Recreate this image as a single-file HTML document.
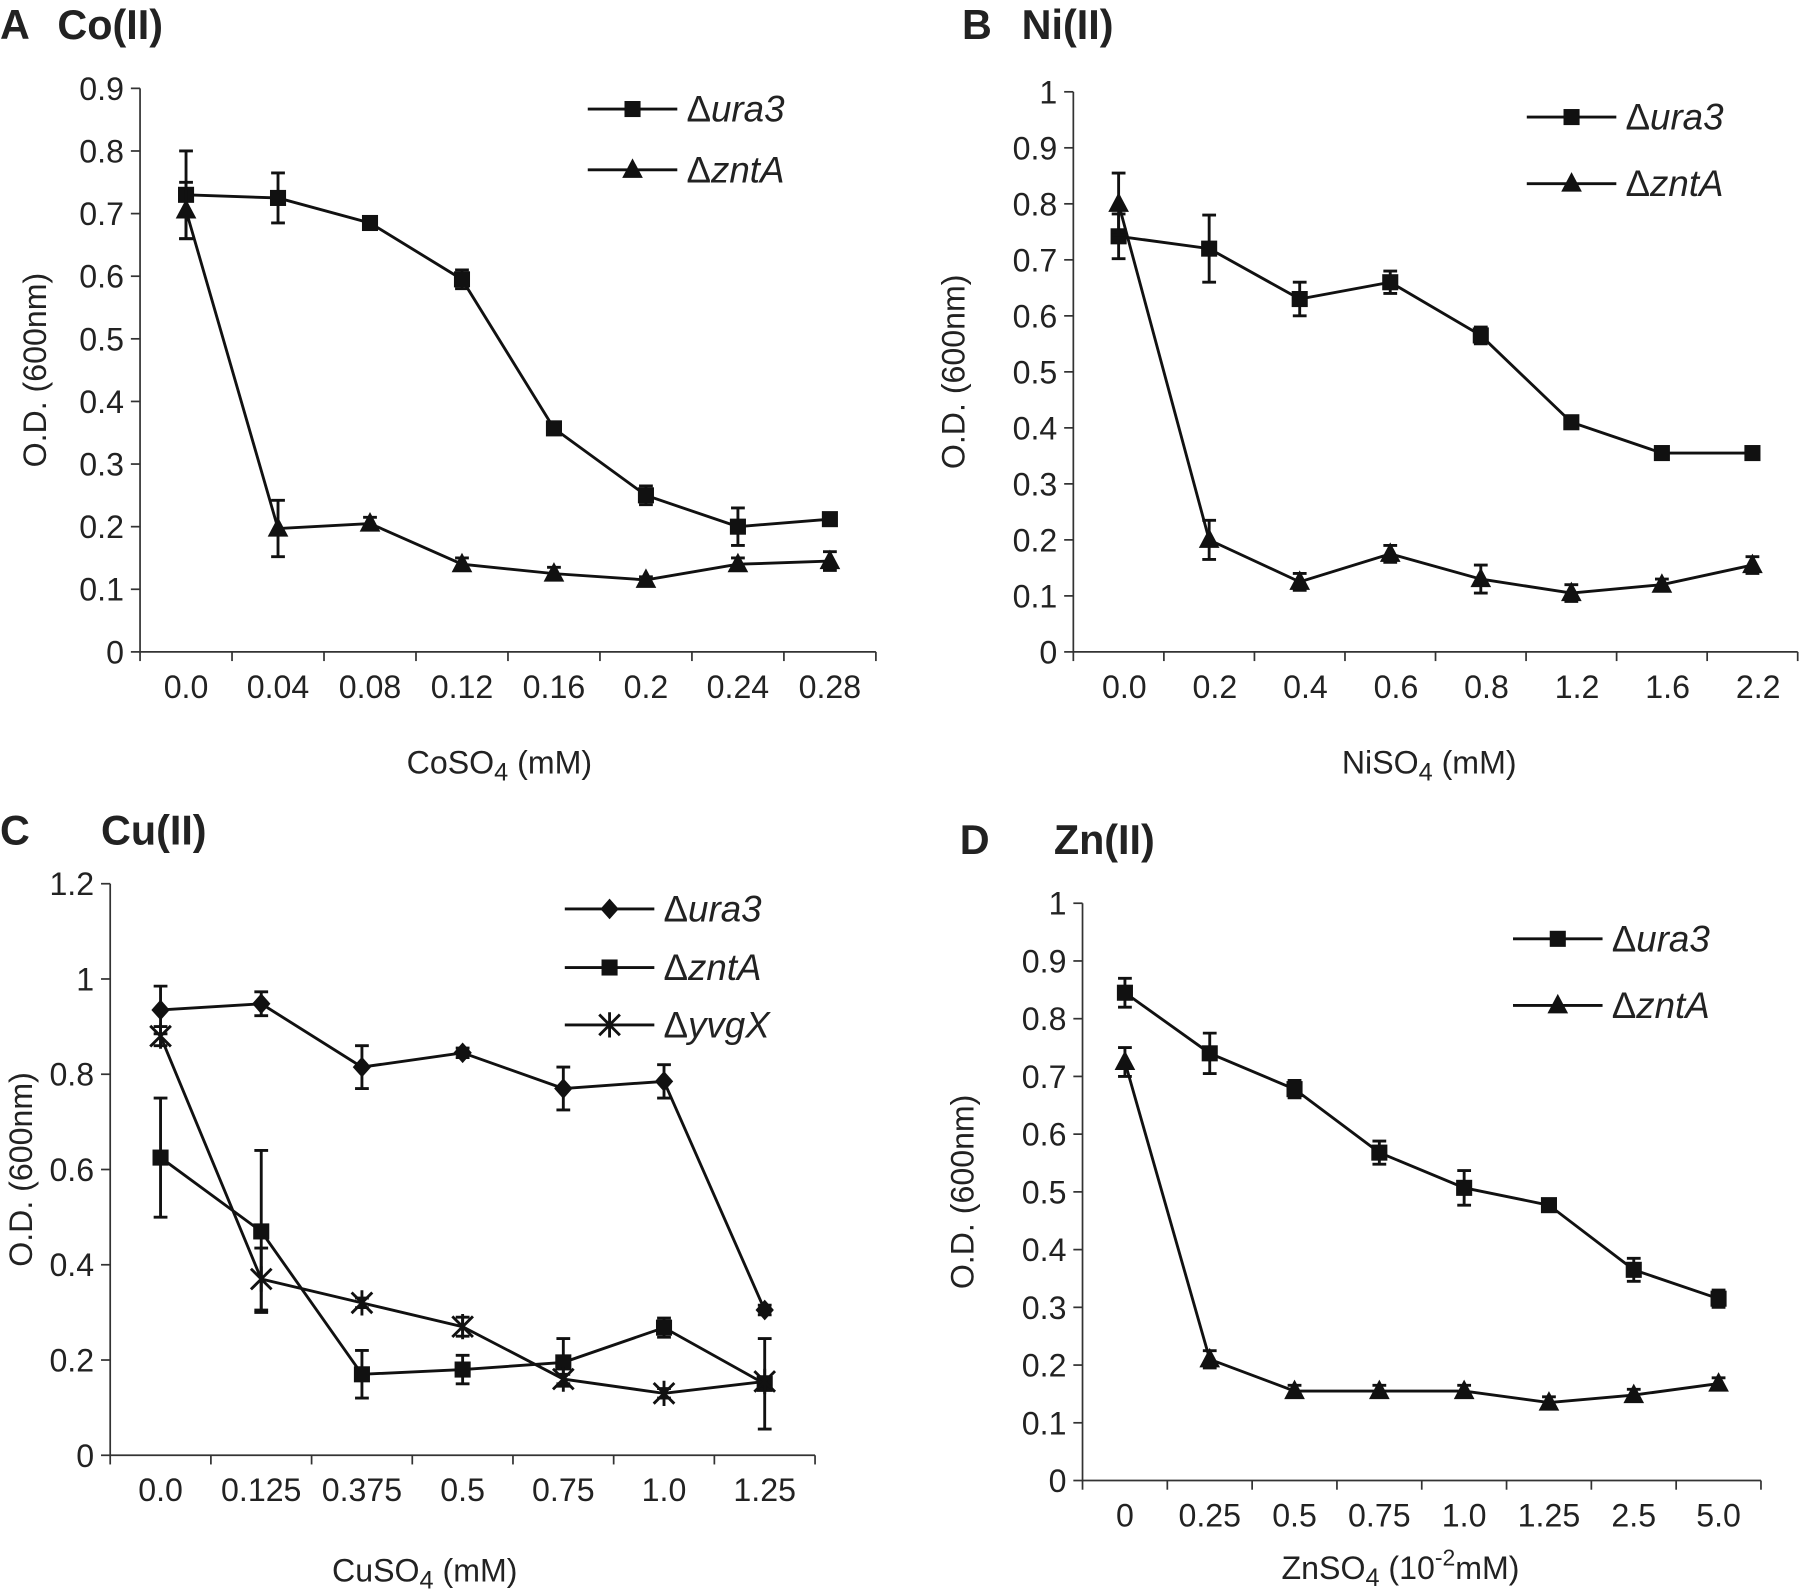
<!DOCTYPE html>
<html><head><meta charset="utf-8"><style>
html,body{margin:0;padding:0;background:#fff}
svg{display:block}
text{font-family:"Liberation Sans",Arial,sans-serif;fill:#222}
</style></head><body>
<svg id="fig" width="1800" height="1593" viewBox="0 0 1568 1388" preserveAspectRatio="none" xmlns="http://www.w3.org/2000/svg">
<g><text x="0" y="34" font-size="36" font-weight="bold">A</text><text x="50" y="34" font-size="36" font-weight="bold">Co(II)</text></g>
<g><text x="838" y="34" font-size="36" font-weight="bold">B</text><text x="890" y="34" font-size="36" font-weight="bold">Ni(II)</text></g>
<g><text x="0" y="736" font-size="36" font-weight="bold">C</text><text x="88" y="736" font-size="36" font-weight="bold">Cu(II)</text></g>
<g><text x="836" y="744" font-size="36" font-weight="bold">D</text><text x="918" y="744" font-size="36" font-weight="bold">Zn(II)</text></g>
</svg>
<script>
// Panel A data
const catsA=["0.0","0.04","0.08","0.12","0.16","0.2","0.24","0.28"];
const aUra3=[0.73,0.725,0.685,0.595,0.357,0.25,0.2,0.212];
const aUra3Err=[0.07,0.04,0.01,0.015,0.01,0.015,0.03,0.01];
const aZntA=[0.705,0.197,0.205,0.14,0.125,0.115,0.14,0.145];
const aZntAErr=[0.045,0.045,0.01,0.01,0.01,0.005,0.01,0.015];
const ticksA=["0","0.1","0.2","0.3","0.4","0.5","0.6","0.7","0.8","0.9"];
// Panel B data
const catsB=["0.0","0.2","0.4","0.6","0.8","1.2","1.6","2.2"];
const bUra3=[0.742,0.72,0.63,0.66,0.565,0.41,0.355,0.355];
const bUra3Err=[0.04,0.06,0.03,0.02,0.015,0.01,0.01,0.01];
const bZntA=[0.80,0.20,0.125,0.175,0.13,0.105,0.12,0.155];
const bZntAErr=[0.055,0.035,0.015,0.015,0.025,0.015,0.01,0.015];
const ticksB=["0","0.1","0.2","0.3","0.4","0.5","0.6","0.7","0.8","0.9","1"];
// Panel C data
const catsC=["0.0","0.125","0.375","0.5","0.75","1.0","1.25"];
const cUra3=[0.935,0.948,0.815,0.845,0.77,0.785,0.305];
const cUra3Err=[0.05,0.025,0.045,0.01,0.045,0.035,0.01];
const cZntA=[0.625,0.47,0.17,0.18,0.195,0.268,0.15];
const cZntAErr=[0.125,0.17,0.05,0.03,0.05,0.02,0.095];
const cYvgX=[0.88,0.37,0.32,0.27,0.16,0.13,0.155];
const cYvgXErr=[0.02,0.065,0.01,0.02,0.01,0.01,0.01];
const ticksC=["0","0.2","0.4","0.6","0.8","1","1.2"];
// Panel D data
const catsD=["0","0.25","0.5","0.75","1.0","1.25","2.5","5.0"];
const dUra3=[0.845,0.74,0.678,0.568,0.507,0.477,0.365,0.315];
const dUra3Err=[0.025,0.035,0.015,0.02,0.03,0.01,0.02,0.015];
const dZntA=[0.725,0.21,0.155,0.155,0.155,0.135,0.148,0.168];
const dZntAErr=[0.025,0.015,0.01,0.01,0.01,0.01,0.01,0.01];
const ticksD=["0","0.1","0.2","0.3","0.4","0.5","0.6","0.7","0.8","0.9","1"];

const NS="http://www.w3.org/2000/svg";
const svg=document.getElementById('fig');
function mk(tag,attrs,parent){const e=document.createElementNS(NS,tag);for(const k in attrs)e.setAttribute(k,attrs[k]);(parent||svg).appendChild(e);return e;}
function marker(g,type,x,y){
  let m;
  if(type==='square'){m=mk('rect',{x:x-7,y:y-7,width:14,height:14,fill:'#111'},g);}
  else if(type==='triangle'){m=mk('polygon',{points:`${x},${y-10} ${x+9},${y+7} ${x-9},${y+7}`,fill:'#111'},g);}
  else if(type==='diamond'){m=mk('polygon',{points:`${x},${y-9} ${x+8},${y} ${x},${y+9} ${x-8},${y}`,fill:'#111'},g);}
  else {m=mk('path',{d:`M${x-9} ${y-9}L${x+9} ${y+9}M${x+9} ${y-9}L${x-9} ${y+9}M${x} ${y-11}L${x} ${y+11}`,stroke:'#111','stroke-width':2.5,fill:'none'},g);}
  
  
}
function panel(p){
  const g=mk('g',{});
  
  
  const bw=(p.x1-p.x0)/p.cats.length;
  const sx=i=>p.x0+bw*(i+0.5);
  const sy=v=>p.y0-(v/p.ymax)*(p.y0-p.yTop);
  const ax=mk('path',{d:`M${p.x0} ${p.yTop}V${p.y0}H${p.x1}`,stroke:'#333','stroke-width':1.5,fill:'none'},g);
  
  
  p.ticks.forEach((t,i)=>{
    const v=p.ymax*i/(p.ticks.length-1);const y=sy(v);
    mk('line',{x1:p.x0-8,x2:p.x0,y1:y,y2:y,stroke:'#333','stroke-width':1.5},g);
    const tx=mk('text',{x:p.x0-14,y:y+10,'font-size':28,'text-anchor':'end'},g);tx.textContent=t;
    
    
  });
  for(let i=0;i<=p.cats.length;i++){const x=p.x0+bw*i;mk('line',{x1:x,x2:x,y1:p.y0,y2:p.y0+8,stroke:'#333','stroke-width':1.5},g);}
  p.cats.forEach((c,i)=>{
    const tx=mk('text',{x:sx(i)+(p.lblOff||0),y:p.y0+40,'font-size':28,'text-anchor':'middle'},g);tx.textContent=c;
    
    
  });
  const xt=mk('text',{x:p.xtX,y:p.xtY,'font-size':28,'text-anchor':'middle'},g);xt.innerHTML=p.xtitle;
  
  
  const yc=(p.y0+p.yTop)/2;
  const yt=mk('text',{x:p.ytX,y:yc,'font-size':28,'text-anchor':'middle',transform:`rotate(-90 ${p.ytX} ${yc})`},g);yt.textContent='O.D. (600nm)';
  
  
  p.series.forEach((s,si)=>{
    const sg=mk('g',{},g);
    
    
    const d=s.vals.map((v,i)=>(i?'L':'M')+sx(i)+' '+sy(v)).join('');
    mk('path',{d,stroke:'#111','stroke-width':2.5,fill:'none'},sg);
    s.vals.forEach((v,i)=>{
      const x=sx(i),e=s.err[i];
      mk('path',{d:`M${x} ${sy(v-e)}V${sy(v+e)}M${x-6} ${sy(v-e)}H${x+6}M${x-6} ${sy(v+e)}H${x+6}`,stroke:'#111','stroke-width':2.5,fill:'none'},sg);
      marker(sg,s.marker,x,sy(v));
    });
    const ly=p.legY[si];
    const lg=mk('g',{},g);
    
    
    mk('line',{x1:p.legX,x2:p.legX+78,y1:ly,y2:ly,stroke:'#111','stroke-width':2.5},lg);
    marker(lg,s.marker,p.legX+39,ly);
    const lt=mk('text',{x:p.legX+86,y:ly+11,'font-size':32},lg);
    lt.innerHTML='Δ<tspan font-style="italic">'+s.label+'</tspan>';
  });
}
panel({name:'panel-a-chart',x0:122,x1:763,y0:568,yTop:77,ymax:0.9,cats:catsA,ticks:ticksA,xtitle:'CoSO<tspan font-size="22" dy="6">4</tspan><tspan dy="-6"> (mM)</tspan>',xtX:435,xtY:674,ytX:40,legX:512,legY:[95,148],
 series:[{label:'ura3',vals:aUra3,err:aUra3Err,marker:'square'},{label:'zntA',vals:aZntA,err:aZntAErr,marker:'triangle'}]});
panel({name:'panel-b-chart',x0:935,x1:1566,y0:568,yTop:80,ymax:1,cats:catsB,ticks:ticksB,lblOff:5,xtitle:'NiSO<tspan font-size="22" dy="6">4</tspan><tspan dy="-6"> (mM)</tspan>',xtX:1245,xtY:674,ytX:840,legX:1330,legY:[102,160],
 series:[{label:'ura3',vals:bUra3,err:bUra3Err,marker:'square'},{label:'zntA',vals:bZntA,err:bZntAErr,marker:'triangle'}]});
panel({name:'panel-c-chart',x0:96,x1:710,y0:1268,yTop:770,ymax:1.2,cats:catsC,ticks:ticksC,xtitle:'CuSO<tspan font-size="22" dy="6">4</tspan><tspan dy="-6"> (mM)</tspan>',xtX:370,xtY:1378,ytX:28,legX:492,legY:[792,843,893],
 series:[{label:'ura3',vals:cUra3,err:cUra3Err,marker:'diamond'},{label:'zntA',vals:cZntA,err:cZntAErr,marker:'square'},{label:'yvgX',vals:cYvgX,err:cYvgXErr,marker:'star'}]});
panel({name:'panel-d-chart',x0:943,x1:1534,y0:1290,yTop:787,ymax:1,cats:catsD,ticks:ticksD,xtitle:'ZnSO<tspan font-size="22" dy="6">4</tspan><tspan dy="-6"> (10</tspan><tspan font-size="20" dy="-12">-2</tspan><tspan dy="12">mM)</tspan>',xtX:1220,xtY:1376,ytX:848,legX:1318,legY:[818,876],
 series:[{label:'ura3',vals:dUra3,err:dUra3Err,marker:'square'},{label:'zntA',vals:dZntA,err:dZntAErr,marker:'triangle'}]});
</script>
</body></html>
